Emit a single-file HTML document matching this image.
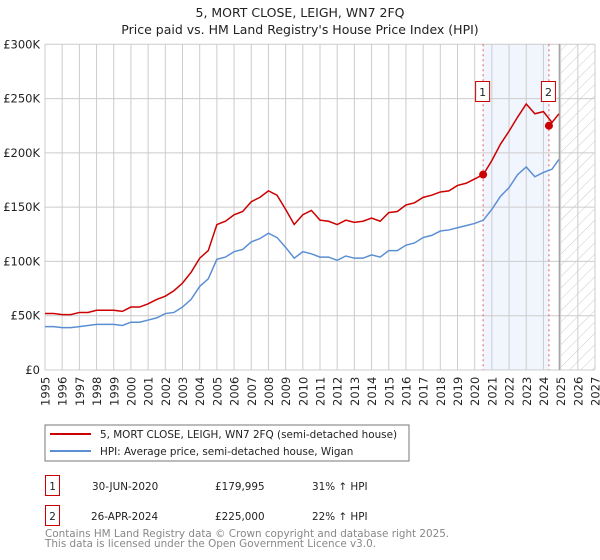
<!DOCTYPE html>
<html><head><meta charset="utf-8"><style>
body{margin:0;background:#fff;font-family:"DejaVu Sans","Liberation Sans",sans-serif;}
svg{display:block}
</style></head><body>
<svg id="c" width="600" height="560" xmlns="http://www.w3.org/2000/svg" font-family="DejaVu Sans, Liberation Sans, sans-serif">
<defs><pattern id="hatch" width="8" height="8" patternUnits="userSpaceOnUse" patternTransform="rotate(45)"><line x1="0" y1="0" x2="0" y2="8" stroke="#ccc" stroke-width="1"/></pattern></defs>
<text x="300" y="17" text-anchor="middle" font-size="12.5" fill="#222">5, MORT CLOSE, LEIGH, WN7 2FQ</text>
<text x="300" y="34" text-anchor="middle" font-size="12.5" fill="#222">Price paid vs. HM Land Registry's House Price Index (HPI)</text>
<g id="plot"></g>
<rect x="45" y="425" width="364" height="36" fill="#fff" stroke="#777"/>
<line x1="50" y1="434" x2="91" y2="434" stroke="#cc0000" stroke-width="2"/>
<text x="100" y="438" font-size="10.4" fill="#222">5, MORT CLOSE, LEIGH, WN7 2FQ (semi-detached house)</text>
<line x1="50" y1="451" x2="91" y2="451" stroke="#5b8fd4" stroke-width="2"/>
<text x="100" y="455" font-size="10.4" fill="#222">HPI: Average price, semi-detached house, Wigan</text>
<g font-size="10.4" fill="#222">
<rect x="45.5" y="475.5" width="14" height="20" fill="none" stroke="#cc0000"/>
<text x="52.5" y="490" text-anchor="middle">1</text>
<text x="92" y="490">30-JUN-2020</text>
<text x="215" y="490">£179,995</text>
<text x="312" y="490">31% ↑ HPI</text>
<rect x="45.5" y="505.5" width="14" height="20" fill="none" stroke="#cc0000"/>
<text x="52.5" y="520" text-anchor="middle">2</text>
<text x="91" y="520">26-APR-2024</text>
<text x="215" y="520">£225,000</text>
<text x="312" y="520">22% ↑ HPI</text>
</g>
<text x="45" y="537" font-size="10.4" fill="#888">Contains HM Land Registry data © Crown copyright and database right 2025.</text>
<text x="45" y="547" font-size="10.4" fill="#888">This data is licensed under the Open Government Licence v3.0.</text>
</svg>
<script>
const years=[1995,1995.5,1996,1996.5,1997,1997.5,1998,1998.5,1999,1999.5,2000,2000.5,2001,2001.5,2002,2002.5,2003,2003.5,2004,2004.5,2005,2005.5,2006,2006.5,2007,2007.5,2008,2008.5,2009,2009.5,2010,2010.5,2011,2011.5,2012,2012.5,2013,2013.5,2014,2014.5,2015,2015.5,2016,2016.5,2017,2017.5,2018,2018.5,2019,2019.5,2020,2020.5,2021,2021.5,2022,2022.5,2023,2023.5,2024,2024.5,2024.9];
const hpiValues=[40,40,39,39,40,41,42,42,42,41,44,44,46,48,52,53,58,65,77,84,102,104,109,111,118,121,126,122,113,103,109,107,104,104,101,105,103,103,106,104,110,110,115,117,122,124,128,129,131,133,135,138,148,160,168,180,187,178,182,185,194];
const propertyValues=[52,52,51,51,53,53,55,55,55,54,58,58,61,65,68,73,80,90,103,110,134,137,143,146,155,159,165,161,148,134,143,147,138,137,134,138,136,137,140,137,145,146,152,154,159,161,164,165,170,172,176,180,193,208,220,233,245,236,238,228,236];
const saleYears=[2020.49,2024.32];
const salePrices=[179.995,225];
const saleLabels=['1','2'];
const yTicks=[0,50,100,150,200,250,300];
const yTickLabels=['£0','£50K','£100K','£150K','£200K','£250K','£300K'];
const xTicks=[1995,1996,1997,1998,1999,2000,2001,2002,2003,2004,2005,2006,2007,2008,2009,2010,2011,2012,2013,2014,2015,2016,2017,2018,2019,2020,2021,2022,2023,2024,2025,2026,2027];

const X0=45,X1=595,Y0=370,Y1=44.3;
const xs=y=>X0+(y-1995)/(2027-1995)*(X1-X0);
const ys=v=>Y0-v/300*(Y0-Y1);
const NS='http://www.w3.org/2000/svg';
const g=document.getElementById('plot');
function mk(t,a){const e=document.createElementNS(NS,t);for(const k in a)e.setAttribute(k,a[k]);g.appendChild(e);return e;}

let e=mk('rect',{x:xs(2020.49),y:Y1,width:xs(2024.32)-xs(2020.49),height:Y0-Y1,fill:'#eef3fc',opacity:0.8});


e=mk('rect',{x:xs(2025),y:Y1,width:X1-xs(2025),height:Y0-Y1,fill:'url(#hatch)'});


xTicks.forEach(t=>{
 e=mk('line',{x1:xs(t),x2:xs(t),y1:Y1,y2:Y0,stroke:'#ccc','stroke-width':1});
 
 
 e=mk('text',{x:0,y:0,transform:`translate(${xs(t)+4.5},${Y0+36}) rotate(-90)`,'font-size':11.5,fill:'#222'});
 e.textContent=t;
 
 
});
yTicks.forEach((t,i)=>{
 e=mk('line',{x1:X0,x2:X1,y1:ys(t),y2:ys(t),stroke:'#ccc','stroke-width':1});
 
 
 e=mk('text',{x:40,y:ys(t)+4,'text-anchor':'end','font-size':11.5,fill:'#222'});
 e.textContent=yTickLabels[i];
 
 
});
e=mk('line',{x1:xs(2024.92),x2:xs(2024.92),y1:Y1,y2:Y0,stroke:'#888','stroke-width':1});


saleYears.forEach((s,i)=>{
 e=mk('line',{x1:xs(s),x2:xs(s),y1:Y1,y2:Y0,stroke:'#e06060','stroke-width':1,'stroke-dasharray':'2,3'});
 
 
});
e=mk('polyline',{points:years.map((y,i)=>xs(y)+','+ys(hpiValues[i])).join(' '),fill:'none',stroke:'#5b8fd4','stroke-width':1.5});


e=mk('polyline',{points:years.map((y,i)=>xs(y)+','+ys(propertyValues[i])).join(' '),fill:'none',stroke:'#cc0000','stroke-width':1.5});


saleYears.forEach((s,i)=>{
 e=mk('circle',{cx:xs(s),cy:ys(salePrices[i]),r:4,fill:'#cc0000'});
 
 
 e=mk('rect',{x:xs(s)-7.5,y:81.5,width:14,height:20,fill:'#fff',stroke:'#cc0000'});
 
 
 e=mk('text',{x:xs(s)-0.5,y:96,'text-anchor':'middle','font-size':11,fill:'#222'});
 e.textContent=saleLabels[i];
 
 
});
</script>
</body></html>
